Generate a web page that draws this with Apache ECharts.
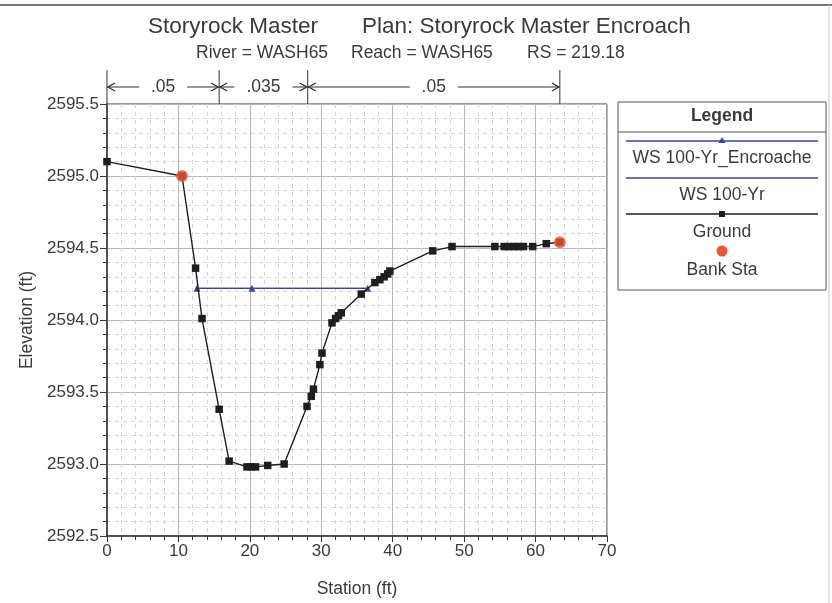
<!DOCTYPE html>
<html>
<head>
<meta charset="utf-8">
<script src="https://cdn.jsdelivr.net/npm/echarts@6/dist/echarts.min.js"></script>
<style>
  html, body { margin: 0; padding: 0; background: #fff; }
  #chart { width: 832px; height: 603px; }
</style>
</head>
<body>
<div id="chart"></div>
<script>
// Cross-section: ground profile, water surfaces, bank stations, Manning's n zones
const groundStation = [0, 10.5, 12.4, 13.3, 15.7, 17.1, 19.6, 20.2, 20.8, 22.5, 24.8, 28.0, 28.6, 28.9, 29.8, 30.1, 31.5, 32.0, 32.4, 32.8, 35.6, 37.5, 38.2, 38.8, 39.3, 39.6, 45.6, 48.3, 54.3, 55.6, 56.3, 57.0, 57.6, 58.3, 59.6, 61.5, 63.4];
const groundElev    = [2595.10, 2595.00, 2594.36, 2594.01, 2593.38, 2593.02, 2592.98, 2592.98, 2592.98, 2592.99, 2593.00, 2593.40, 2593.47, 2593.52, 2593.69, 2593.77, 2593.98, 2594.01, 2594.03, 2594.05, 2594.18, 2594.26, 2594.28, 2594.30, 2594.32, 2594.34, 2594.48, 2594.51, 2594.51, 2594.51, 2594.51, 2594.51, 2594.51, 2594.51, 2594.51, 2594.53, 2594.54];

const wsEncStation = [12.6, 20.3, 36.5];
const wsEncElev    = [2594.22, 2594.22, 2594.22];

const wsStation = [12.6, 36.5];
const wsElev    = [2594.22, 2594.22];

const bankStation = [10.5, 63.4];
const bankElev    = [2595.00, 2594.54];

// Manning's n breaks and values
const nBreaks = [0, 15.7, 28.1, 63.4];
const nValues = ['.05', '.035', '.05'];

const xTicks = [0, 70, 10];          // min, max, interval
const yTicks = [2592.5, 2595.5, 0.5];

const legendItems = ['WS 100-Yr_Encroache', 'WS 100-Yr', 'Ground', 'Bank Sta'];

const FONT = 'Liberation Sans, Arial, sans-serif';
const TXT = '#3a3a3a';
const BLUE = '#3a45a0';
const GROUND = '#1e1e1e';
const BANK = '#ee5530';

const zip = (a, b) => a.map((v, i) => [v, b[i]]);

const chart = echarts.init(document.getElementById('chart'));

const GRID = { left: 107, top: 104, width: 500, height: 433 };

function label(text, x, y, size, extra) {
  return Object.assign({ type: 'text', x: x, y: y,
    style: { text: text, fontFamily: FONT, fontSize: size, fill: TXT, textVerticalAlign: 'middle' } }, extra || {});
}

chart.setOption({
  animation: false,
  backgroundColor: '#ffffff',
  grid: { left: GRID.left, top: GRID.top, width: GRID.width, height: GRID.height, show: true,
          borderColor: '#333', borderWidth: 1 },
  xAxis: {
    type: 'value', min: xTicks[0], max: xTicks[1], interval: xTicks[2],
    name: 'Station (ft)', nameLocation: 'middle', nameGap: 44,
    nameTextStyle: { fontFamily: FONT, fontSize: 17.5, color: TXT },
    axisLine: { onZero: false, lineStyle: { color: '#333', width: 1.5 } },
    axisTick: { show: true, length: 6, lineStyle: { color: '#333' } },
    minorTick: { show: true, splitNumber: 5, length: 4, lineStyle: { color: '#333' } },
    axisLabel: { fontFamily: FONT, fontSize: 17, color: TXT, margin: 7 },
    splitLine: { show: true, lineStyle: { color: '#b2b4cc', width: 1 } },
    minorSplitLine: { show: true, lineStyle: { color: '#d2d3de', width: 1, type: [4, 4] } }
  },
  yAxis: {
    type: 'value', min: yTicks[0], max: yTicks[1], interval: yTicks[2],
    name: 'Elevation (ft)', nameLocation: 'middle', nameGap: 71, nameRotate: 90,
    nameTextStyle: { fontFamily: FONT, fontSize: 17.5, color: TXT },
    axisLine: { show: true, onZero: false, lineStyle: { color: '#333', width: 1.5 } },
    axisTick: { show: true, length: 7, lineStyle: { color: '#333' } },
    minorTick: { show: true, splitNumber: 5, length: 4, lineStyle: { color: '#333' } },
    axisLabel: { fontFamily: FONT, fontSize: 17, color: TXT, margin: 8,
                 formatter: v => v.toFixed(1) },
    splitLine: { show: true, lineStyle: { color: '#b2b4cc', width: 1 } },
    minorSplitLine: { show: true, lineStyle: { color: '#d2d3de', width: 1, type: [4, 4] } }
  },
  series: [
    { name: legendItems[1], type: 'line', data: zip(wsStation, wsElev), showSymbol: false,
      lineStyle: { color: BLUE, width: 1.3 }, z: 3 },
    { name: legendItems[0], type: 'line', data: zip(wsEncStation, wsEncElev),
      symbol: 'triangle', symbolSize: 7, itemStyle: { color: BLUE },
      lineStyle: { color: BLUE, width: 1.3 }, z: 4 },
    { name: legendItems[2], type: 'line', data: zip(groundStation, groundElev),
      symbol: 'rect', symbolSize: 7.5, itemStyle: { color: GROUND },
      lineStyle: { color: GROUND, width: 1.4 }, z: 5 },
    { name: legendItems[3], type: 'scatter', data: zip(bankStation, bankElev),
      symbol: 'circle', symbolSize: 12, itemStyle: { color: BANK }, z: 6 }
  ]
});

const gfx = [];

// Titles
gfx.push(label('Storyrock Master', 148, 27, 22.5));
gfx.push(label('Plan: Storyrock Master Encroach', 362, 27, 22.5));
gfx.push(label('River = WASH65', 196, 53, 17.5));
gfx.push(label('Reach = WASH65', 351, 53, 17.5));
gfx.push(label('RS = 219.18', 527, 53, 17.5));

// Manning's n zone annotation above the plot, placed through the x scale
const topY = GRID.top;
const arrowY = 87;
const tickTop = 70;
const px = nBreaks.map(s => chart.convertToPixel({ xAxisIndex: 0 }, s));

px.forEach(x => {
  gfx.push({ type: 'line', shape: { x1: x, y1: tickTop, x2: x, y2: topY },
             style: { stroke: '#333', lineWidth: 1 } });
});

function arrowHead(x, dir) {
  // dir = +1 points right, -1 points left
  return { type: 'polyline', shape: { points: [[x - dir * 7, arrowY - 4], [x, arrowY], [x - dir * 7, arrowY + 4]] },
           style: { stroke: '#333', lineWidth: 1.4, fill: null } };
}

for (let i = 0; i < nValues.length; i++) {
  const x1 = px[i], x2 = px[i + 1];
  const mid = (x1 + x2) / 2;
  const halfGap = nValues[i].length * 5 + 9;
  gfx.push({ type: 'line', shape: { x1: x1, y1: arrowY, x2: mid - halfGap, y2: arrowY },
             style: { stroke: '#333', lineWidth: 1 } });
  gfx.push({ type: 'line', shape: { x1: mid + halfGap, y1: arrowY, x2: x2, y2: arrowY },
             style: { stroke: '#333', lineWidth: 1 } });
  gfx.push(arrowHead(x1 + 1, -1));
  gfx.push(arrowHead(x2 - 1, 1));
  gfx.push({ type: 'text', x: mid, y: arrowY,
             style: { text: nValues[i], fontFamily: FONT, fontSize: 17.5, fill: TXT,
                      textAlign: 'center', textVerticalAlign: 'middle' } });
}

// Legend panel
const L = { x: 618, y: 102, w: 208, h: 188 };
const cx = L.x + L.w / 2;
const centred = { textAlign: 'center' };
function legendText(t, y, bold) {
  return { type: 'text', x: cx, y: y,
           style: { text: t, fontFamily: FONT, fontSize: 17.5, fontWeight: bold ? 'bold' : 'normal',
                    fill: TXT, textAlign: 'center', textVerticalAlign: 'middle' } };
}
gfx.push({ type: 'rect', shape: { x: L.x, y: L.y, width: L.w, height: L.h },
           style: { stroke: '#555', lineWidth: 1, fill: '#fff' } });
gfx.push({ type: 'line', shape: { x1: L.x, y1: 132, x2: L.x + L.w, y2: 132 },
           style: { stroke: '#555', lineWidth: 1 } });
gfx.push(legendText('Legend', 116, true));

const lx1 = L.x + 8, lx2 = L.x + L.w - 8;
// WS 100-Yr_Encroache
gfx.push({ type: 'line', shape: { x1: lx1, y1: 141, x2: lx2, y2: 141 }, style: { stroke: BLUE, lineWidth: 1.3 } });
gfx.push({ type: 'polygon', shape: { points: [[cx, 137], [cx - 3.5, 143], [cx + 3.5, 143]] }, style: { fill: BLUE } });
gfx.push(legendText(legendItems[0], 158));
// WS 100-Yr
gfx.push({ type: 'line', shape: { x1: lx1, y1: 178, x2: lx2, y2: 178 }, style: { stroke: BLUE, lineWidth: 1.3 } });
gfx.push(legendText(legendItems[1], 195));
// Ground
gfx.push({ type: 'line', shape: { x1: lx1, y1: 214, x2: lx2, y2: 214 }, style: { stroke: GROUND, lineWidth: 1.3 } });
gfx.push({ type: 'rect', shape: { x: cx - 3, y: 211, width: 6, height: 6 }, style: { fill: GROUND } });
gfx.push(legendText(legendItems[2], 232));
// Bank Sta
gfx.push({ type: 'circle', shape: { cx: cx, cy: 251, r: 5.5 }, style: { fill: BANK } });
gfx.push(legendText(legendItems[3], 270));

// Outer frame
gfx.push({ type: 'line', shape: { x1: 0, y1: 5, x2: 832, y2: 5 }, style: { stroke: '#777', lineWidth: 2 } });
gfx.push({ type: 'line', shape: { x1: 829, y1: 5, x2: 829, y2: 603 }, style: { stroke: '#c8c8c8', lineWidth: 1 } });

chart.setOption({ graphic: gfx });
</script>
</body>
</html>
